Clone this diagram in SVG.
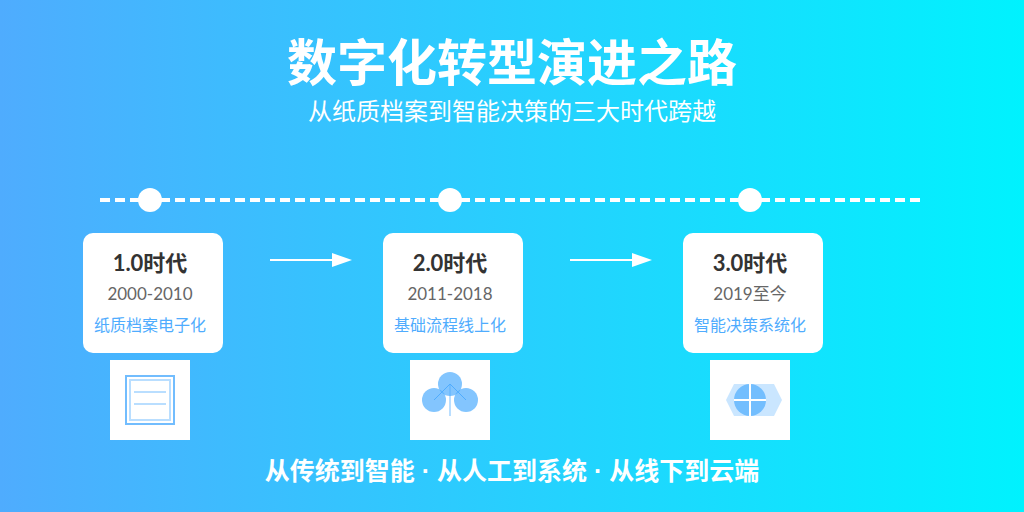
<svg xmlns="http://www.w3.org/2000/svg" width="1024" height="512" viewBox="0 0 1024 512">
<style>
text{text-anchor:middle;font-family:"Lato","Noto Sans CJK SC",sans-serif}
.card{fill:#fff}
.t{font-size:22px;font-weight:700;fill:#333}
.d{font-size:17px;fill:#666}
.s{font-size:16px;fill:#4facfe}
.tile{fill:#fff}
.a{fill:#4facfe;fill-opacity:.7}
.o{fill:none;stroke:#4facfe;stroke-width:2;stroke-opacity:.8}
.l{fill:none;stroke:#4facfe;stroke-width:2;stroke-opacity:.4}
.dot{fill:#fff}
</style>
<defs>
<linearGradient id="bg" x1="0" y1="0" x2="1" y2="0"><stop offset="0" stop-color="#4facfe"/><stop offset="1" stop-color="#00f2fe"/></linearGradient>
<marker id="arr" markerUnits="userSpaceOnUse" markerWidth="20" markerHeight="14" refX="0" refY="7" orient="auto"><path d="M0 0L20 7L0 14Z" fill="#fff"/></marker>
</defs>
<rect width="1024" height="512" fill="url(#bg)"/>
<text x="512" y="81" font-size="50" font-weight="700" fill="#fff">数字化转型演进之路</text>
<text x="512" y="120" font-size="24" fill="#fff">从纸质档案到智能决策的三大时代跨越</text>
<g id="connectors">
<line x1="100" y1="200" x2="920" y2="200" stroke="#fff" stroke-width="4" stroke-dasharray="10 5"/>
<line x1="270" y1="260" x2="332" y2="260" stroke="#fff" stroke-width="2" marker-end="url(#arr)"/>
<line x1="570" y1="260" x2="632" y2="260" stroke="#fff" stroke-width="2" marker-end="url(#arr)"/>
</g>
<g id="dot1"><circle class="dot" cx="150" cy="200" r="12"/></g>
<g id="dot2"><circle class="dot" cx="450" cy="200" r="12"/></g>
<g id="dot3"><circle class="dot" cx="750" cy="200" r="12"/></g>
<g id="card1"><rect class="card" x="83" y="233" width="140" height="120" rx="10"/>
<text class="t" x="150" y="271">1.0时代</text><text class="d" x="150" y="300">2000-2010</text><text class="s" x="150" y="331">纸质档案电子化</text></g>
<g id="card2"><rect class="card" x="383" y="233" width="140" height="120" rx="10"/>
<text class="t" x="450" y="271">2.0时代</text><text class="d" x="450" y="300">2011-2018</text><text class="s" x="450" y="331">基础流程线上化</text></g>
<g id="card3"><rect class="card" x="683" y="233" width="140" height="120" rx="10"/>
<text class="t" x="750" y="271">3.0时代</text><text class="d" x="750" y="300">2019至今</text><text class="s" x="750" y="331">智能决策系统化</text></g>
<g id="icon1"><rect class="tile" x="110" y="360" width="80" height="80"/>
<rect class="o" x="126" y="376" width="48" height="48"/><rect class="l" x="130" y="380" width="40" height="40"/>
<path class="l" d="M134 392H166M134 404H166"/></g>
<g id="icon2"><rect class="tile" x="410" y="360" width="80" height="80"/>
<circle class="a" cx="450" cy="384" r="12"/><circle class="a" cx="434" cy="400" r="12"/><circle class="a" cx="466" cy="400" r="12"/>
<path class="l" d="M450 384V416"/><path d="M434 400L450 384L466 400" fill="none" stroke="#4facfe" stroke-width="1"/></g>
<g id="icon3"><rect class="tile" x="710" y="360" width="80" height="80"/>
<path d="M734 384H774L782 400L774 416H734L726 400Z" fill="#4facfe" fill-opacity=".3"/>
<circle class="a" cx="750" cy="400" r="16"/>
<path d="M750 384V416M734 400H766" stroke="#fff" stroke-width="2" fill="none"/></g>
<text x="512" y="480" font-size="25" font-weight="700" fill="#fff" style="font-family:'Liberation Sans','Noto Sans CJK SC',sans-serif">从传统到智能 · 从人工到系统 · 从线下到云端</text>
</svg>
